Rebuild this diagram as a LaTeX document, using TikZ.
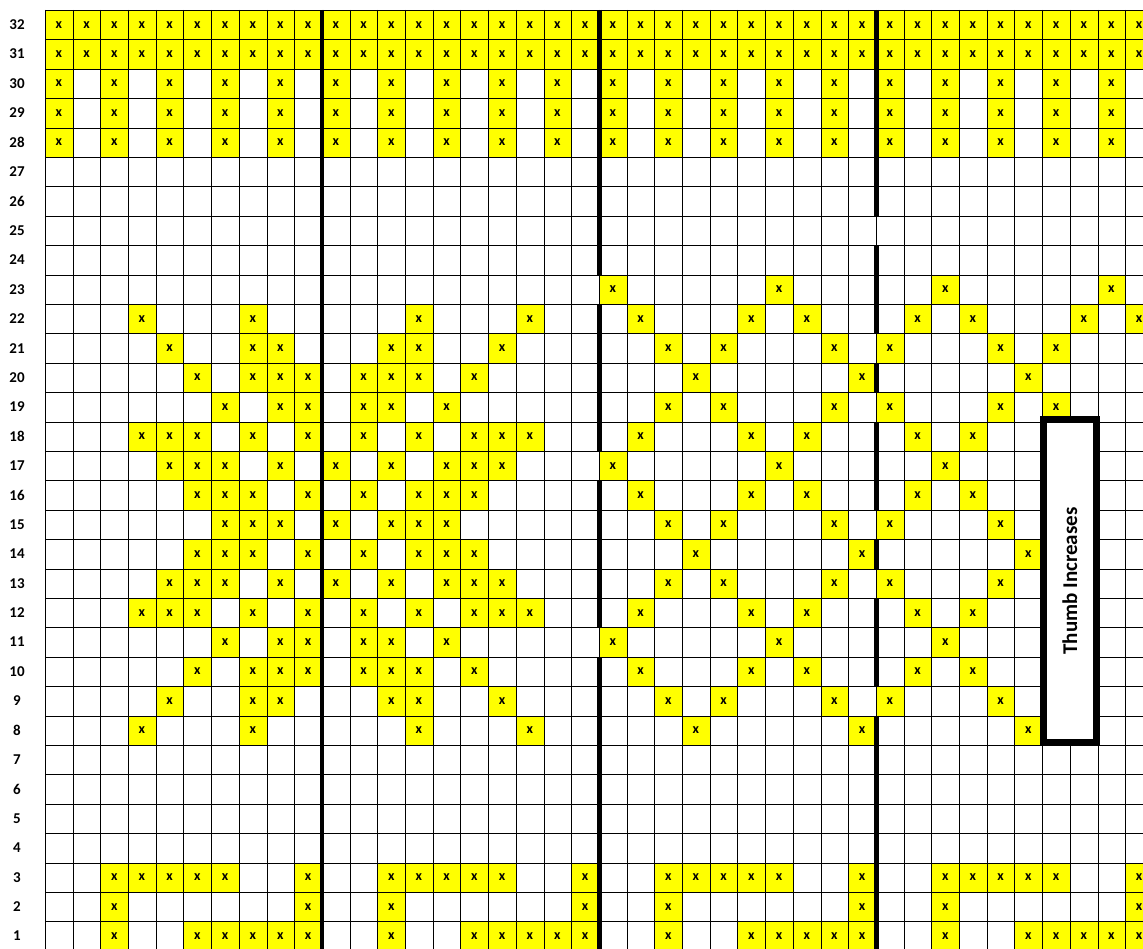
\documentclass[tikz,border=0pt]{standalone}
\usepackage{fontspec}
\setmainfont{Carlito}
\definecolor{cellyellow}{HTML}{FFFF00}
\tikzset{
  cell/.style={rectangle, fill=cellyellow, inner sep=0pt, minimum width=27.8pt, minimum height=29.5pt, font=\bfseries\fontsize{14}{14}\selectfont},
  rowlab/.style={inner sep=0pt, font=\bfseries\fontsize{15}{15}\selectfont},
  gridline/.style={line width=1.2pt, black},
  thickline/.style={line width=4.8pt, black, line cap=butt},
  thumbbox/.style={rectangle, draw=black, line width=7pt, fill=white, inner sep=0pt, minimum width=53.5pt, minimum height=322.6pt},
  thumbtext/.style={rotate=90, inner sep=0pt, font=\bfseries\fontsize{21}{21}\selectfont}
}
\begin{document}
\begin{tikzpicture}[x=1pt,y=-1pt]
\def\cw{27.7}\def\rh{29.4}\def\gx{45}\def\gy{10}
\clip (0,0) rectangle (1143,949);
\fill[white] (0,0) rectangle (1143,949);
% yellow cells
\foreach \r/\cols in {
  32/{1,...,40},
  31/{1,...,40},
  30/{1,3,...,39},
  29/{1,3,...,39},
  28/{1,3,...,39},
  23/{21,27,33,39},
  22/{4,8,14,18,22,26,28,32,34,38,40},
  21/{5,8,9,13,14,17,23,25,29,31,35,37},
  20/{6,8,9,10,12,13,14,16,24,30,36},
  19/{7,9,10,12,13,15,23,25,29,31,35,37},
  18/{4,5,6,8,10,12,14,16,17,18,22,26,28,32,34},
  17/{5,6,7,9,11,13,15,16,17,21,27,33},
  16/{6,7,8,10,12,14,15,16,22,26,28,32,34},
  15/{7,8,9,11,13,14,15,23,25,29,31,35},
  14/{6,7,8,10,12,14,15,16,24,30,36},
  13/{5,6,7,9,11,13,15,16,17,23,25,29,31,35},
  12/{4,5,6,8,10,12,14,16,17,18,22,26,28,32,34},
  11/{7,9,10,12,13,15,21,27,33},
  10/{6,8,9,10,12,13,14,16,22,26,28,32,34},
  9/{5,8,9,13,14,17,23,25,29,31,35},
  8/{4,8,14,18,24,30,36},
  3/{3,4,5,6,7,10,13,14,15,16,17,20,23,24,25,26,27,30,33,34,35,36,37,40},
  2/{3,10,13,20,23,30,33,40},
  1/{3,6,7,8,9,10,13,16,17,18,19,20,23,26,27,28,29,30,33,36,37,38,39,40}}{
  \foreach \c in \cols {
    \node[cell] (c-\r-\c) at ({\gx+(\c-0.5)*\cw},{\gy+(32.5-\r)*\rh}) {x};
  }
}
% grid (snapped to pixel centres)
\foreach \k in {0,...,40} {
  \pgfmathsetmacro{\xx}{round(\gx+\k*\cw)+0.5}
  \draw[gridline] (\xx,\gy) -- (\xx,{\gy+32*\rh});
}
\foreach \k in {0,...,32} {
  \pgfmathsetmacro{\yy}{round(\gy+\k*\rh)+0.5}
  \draw[gridline] (\gx,\yy) -- ({\gx+40*\cw},\yy);
}
% thick section lines
\draw[thickline] ({\gx+10*\cw},\gy) -- ({\gx+10*\cw},{\gy+32*\rh});
\foreach \a/\b in {0/9,10/15,16/21,22/32} {
  \draw[thickline] ({\gx+20*\cw+0.5},{\gy+\a*\rh}) -- ({\gx+20*\cw+0.5},{\gy+\b*\rh});
}
\foreach \a/\b in {0/7,8/11,12/13,14/17,18/19,20/23,24/32} {
  \draw[thickline] ({\gx+30*\cw+0.5},{\gy+\a*\rh}) -- ({\gx+30*\cw+0.5},{\gy+\b*\rh});
}
% row labels
\foreach \r in {1,...,32} {
  \node[rowlab] (lab-\r) at (17,{\gy+(32.5-\r)*\rh}) {\r};
}
% thumb box
\node[thumbbox] (thumb) at (1069.75,581) {};
\node[thumbtext] (thumbtxt) at (thumb.center) {Thumb Increases};
\end{tikzpicture}
\end{document}
